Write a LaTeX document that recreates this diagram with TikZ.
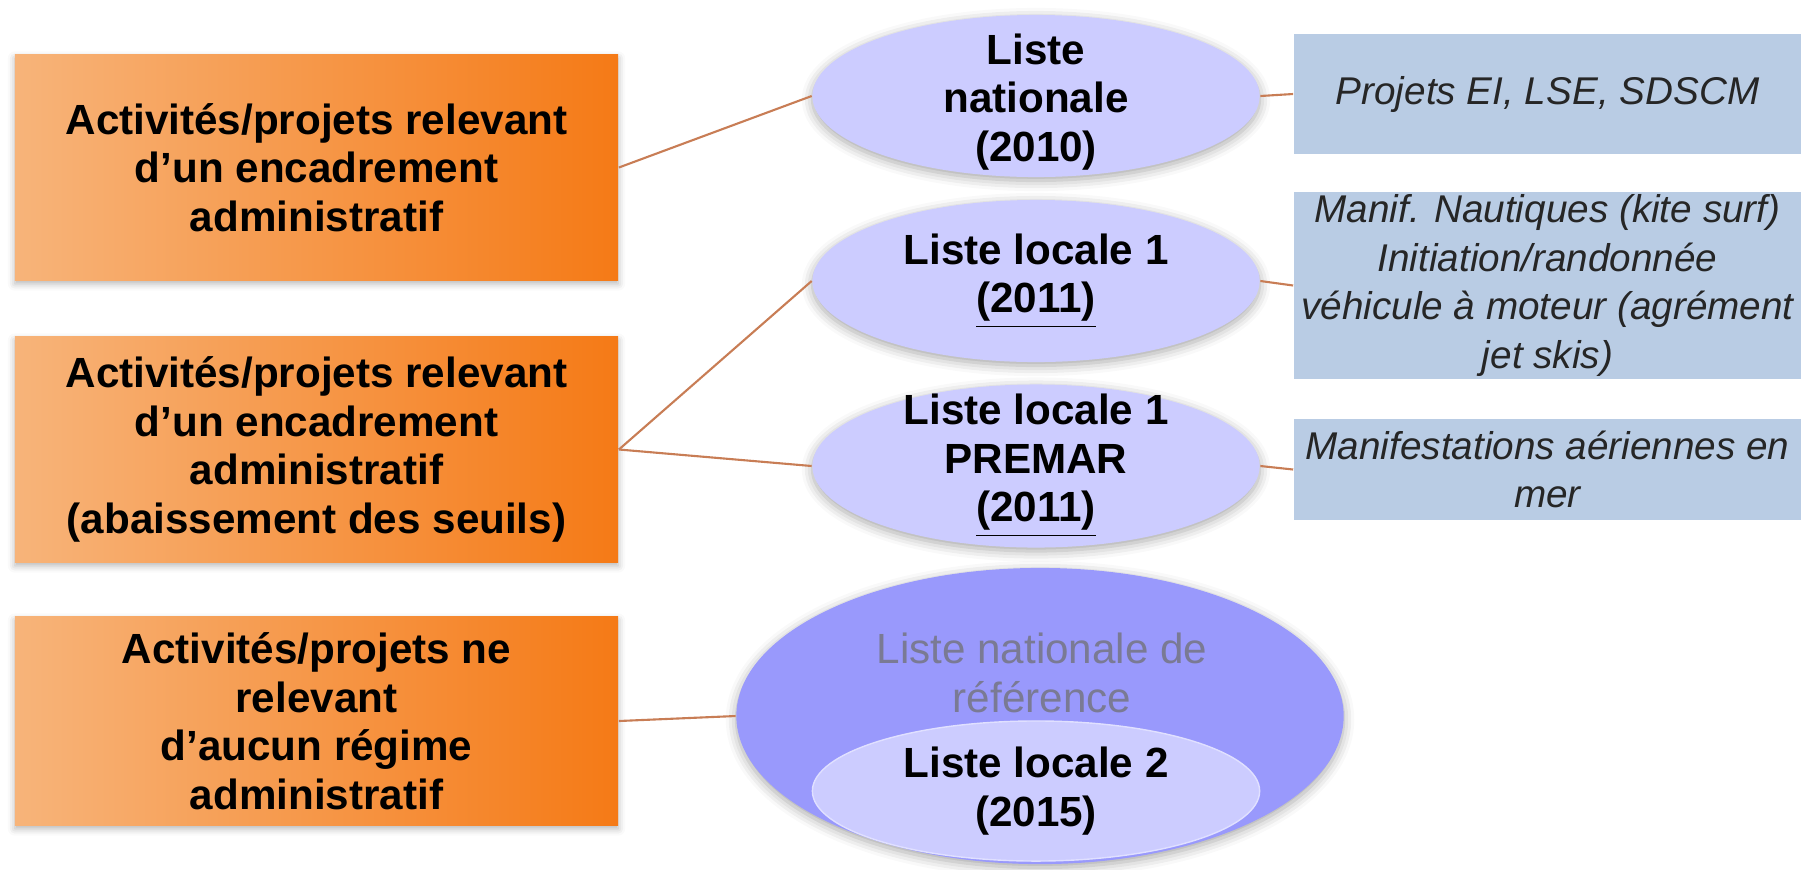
\documentclass[tikz,border=0pt]{standalone}
\usepackage{fontspec}
\setmainfont{Liberation Sans}
\usetikzlibrary{shapes.geometric,shadows.blur}

\definecolor{orangefonce}{RGB}{245,122,22}
\definecolor{orangeclair}{RGB}{247,180,122}
\definecolor{lilas}{RGB}{204,204,255}
\definecolor{lilasfonce}{RGB}{153,153,252}
\definecolor{bleuclair}{RGB}{185,204,228}
\definecolor{trait}{RGB}{200,125,85}
\definecolor{grisref}{RGB}{122,122,148}

\begin{document}
\begin{tikzpicture}[x=0.01cm,y=-0.01cm,
  regime/.style={rectangle,left color=orangeclair,right color=orangefonce,
    minimum width=6.03cm,inner sep=0pt,align=center,
    font=\fontsize{12}{13.8}\selectfont\bfseries,
    blur shadow={shadow xshift=0pt,shadow yshift=-1pt,shadow blur radius=2pt,shadow opacity=30}},
  liste/.style={ellipse,fill=lilas,minimum width=4.47cm,inner sep=0pt,
    blur shadow={shadow xshift=0pt,shadow yshift=-1pt,shadow blur radius=3pt,shadow opacity=35}},
  listetxt/.style={align=center,inner sep=0pt,font=\fontsize{12}{13.8}\selectfont\bfseries},
  exemple/.style={rectangle,fill=bleuclair,minimum width=5.07cm,inner sep=0pt,align=center,
    text=black!85,font=\fontsize{11}{13.8}\selectfont\itshape},
  lien/.style={draw=trait,line width=0.6pt}]

\useasboundingbox (0,0) rectangle (1801,869);

% les trois cadres de gauche
\node[regime,minimum height=2.25cm] (a1) at (316.5,167.5)
  {Activités/projets relevant\\d'un encadrement\\administratif};
\node[regime,minimum height=2.25cm] (a2) at (316.5,449.5)
  {Activités/projets relevant\\d'un encadrement\\administratif\\(abaissement des seuils)};
\node[regime,minimum height=2.08cm] (a3) at (316.5,721)
  {Activités/projets ne\\relevant\\d'aucun régime\\administratif};

% les listes
\node[liste,minimum height=1.62cm] (e1) at (1036,96) {};
\node[listetxt] (t1) at (1036,102) {Liste\\nationale\\(2010)};
\node[liste,minimum height=1.62cm] (e2) at (1036,281) {};
\node[listetxt] (t2) at (e2) {Liste locale 1\\\underline{(2011)}};
\node[liste,minimum height=1.63cm] (e3) at (1036,466) {};
\node[listetxt] (t3) at (e3) {Liste locale 1\\PREMAR\\\underline{(2011)}};

\node[liste,fill=lilasfonce,minimum width=6.07cm,minimum height=2.96cm] (e4) at (1040,716) {};
\node[align=center,inner sep=0pt,text=grisref,font=\fontsize{12}{13.8}\selectfont] (t4) at (1042,673)
  {Liste nationale de\\référence};
\node[ellipse,fill=lilas,draw=lilas!60!white,minimum width=4.47cm,minimum height=1.4cm,inner sep=0pt] (e5) at (1036,791) {};
\node[listetxt] (t5) at (e5) {Liste locale 2\\(2015)};

% les exemples
\node[exemple,minimum height=1.2cm] (b1) at (1547.5,94) {Projets EI, LSE, SDSCM};
\node[exemple,minimum height=1.87cm] (b2) at (1547.5,285.5)
  {Manif. Nautiques (kite surf)\\Initiation/randonnée\\véhicule à moteur (agrément\\jet skis)};
\node[exemple,minimum height=1.01cm] (b3) at (1547.5,469.5) {Manifestations aériennes en\\mer};

% les liens
\draw[lien] (a1.east) -- (e1.west);
\draw[lien] (a2.east) -- (e2.west);
\draw[lien] (a2.east) -- (e3.west);
\draw[lien] (a3.east) -- (e4.west);
\draw[lien] (e1.east) -- (b1.west);
\draw[lien] (e2.east) -- (b2.west);
\draw[lien] (e3.east) -- (b3.west);
\end{tikzpicture}
\end{document}
